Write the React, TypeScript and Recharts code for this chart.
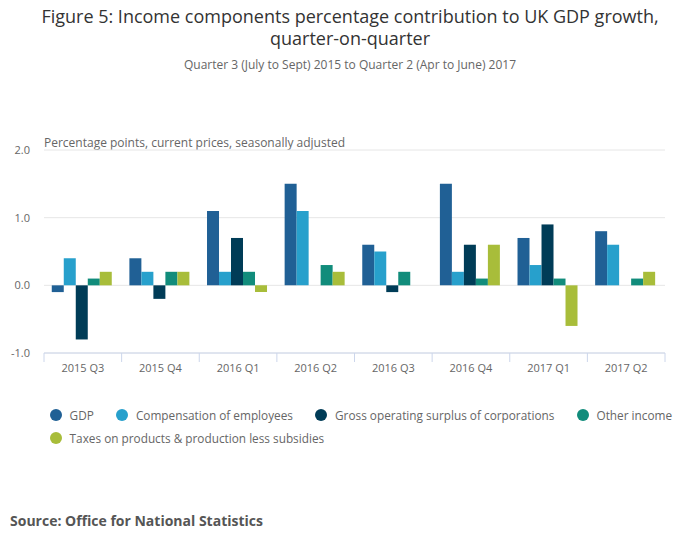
import React from "react";
import { BarChart, Bar, XAxis, YAxis, CartesianGrid } from "recharts";

const quarters = [
  "2015 Q3",
  "2015 Q4",
  "2016 Q1",
  "2016 Q2",
  "2016 Q3",
  "2016 Q4",
  "2017 Q1",
  "2017 Q2",
];

const gdp = [-0.1, 0.4, 1.1, 1.5, 0.6, 1.5, 0.7, 0.8];
const compensation = [0.4, 0.2, 0.2, 1.1, 0.5, 0.2, 0.3, 0.6];
const grossOperating = [-0.8, -0.2, 0.7, 0, -0.1, 0.6, 0.9, 0];
const otherIncome = [0.1, 0.2, 0.2, 0.3, 0.2, 0.1, 0.1, 0.1];
const taxes = [0.2, 0.2, -0.1, 0.2, 0, 0.6, -0.6, 0.2];

const yTicks = [-1, 0, 1, 2];

const series = [
  { key: "gdp", name: "GDP", color: "#206095" },
  { key: "compensation", name: "Compensation of employees", color: "#27a0cc" },
  { key: "grossOperating", name: "Gross operating surplus of corporations", color: "#003c57" },
  { key: "otherIncome", name: "Other income", color: "#118c7b" },
  { key: "taxes", name: "Taxes on products & production less subsidies", color: "#a8bd3a" },
];

const data = quarters.map((q, i) => ({
  quarter: q,
  gdp: gdp[i],
  compensation: compensation[i],
  grossOperating: grossOperating[i],
  otherIncome: otherIncome[i],
  taxes: taxes[i],
}));

const FONT = "'Open Sans', 'Noto Sans', sans-serif";
const CHART_W = 700;
const MARGIN = { top: 150, right: 35, left: 0, bottom: 17 };
const Y_WIDTH = 44;
const plotWidth = CHART_W - MARGIN.left - MARGIN.right - Y_WIDTH;
const band = plotWidth / quarters.length;

function QuarterTick(props: any) {
  const { x, y, payload, index } = props;
  const last = index === quarters.length - 1;
  return (
    <g>
      <line x1={x - band / 2} x2={x - band / 2} y1={y} y2={y + 9} stroke="#ccd6eb" />
      {last && (
        <line x1={x + band / 2} x2={x + band / 2} y1={y} y2={y + 9} stroke="#ccd6eb" />
      )}
      <text x={x} y={y + 19} textAnchor="middle" fontSize={11} fill="#666666" fontFamily={FONT}>
        {payload.value}
      </text>
    </g>
  );
}

function LegendItem({ name, color }: { name: string; color: string }) {
  return (
    <div style={{ display: "flex", alignItems: "center", marginRight: 22.5 }}>
      <span
        style={{
          width: 12,
          height: 12,
          borderRadius: 6,
          background: color,
          display: "inline-block",
          marginRight: 7.6,
        }}
      />
      <span style={{ fontSize: 11.8, color: "#666666", whiteSpace: "nowrap" }}>{name}</span>
    </div>
  );
}

export default function App() {
  return (
    <div
      style={{
        position: "absolute",
        left: 0,
        top: 0,
        width: 700,
        height: 549,
        background: "#ffffff",
        fontFamily: FONT,
        overflow: "hidden",
      }}
    >
      <div
        style={{
          position: "absolute",
          top: 5,
          left: 0,
          width: 700,
          textAlign: "center",
          fontSize: 18,
          lineHeight: "22px",
          color: "#333333",
        }}
      >
        Figure 5: Income components percentage contribution to UK GDP growth,
        <br />
        quarter-on-quarter
      </div>
      <div
        style={{
          position: "absolute",
          top: 56,
          left: 0,
          width: 700,
          textAlign: "center",
          fontSize: 12,
          color: "#666666",
        }}
      >
        Quarter 3 (July to Sept) 2015 to Quarter 2 (Apr to June) 2017
      </div>
      <div
        style={{
          position: "absolute",
          top: 134,
          left: 44,
          fontSize: 12,
          color: "#666666",
          whiteSpace: "nowrap",
        }}
      >
        Percentage points, current prices, seasonally adjusted
      </div>

      <div style={{ position: "absolute", left: 0, top: 0 }}>
        <BarChart
          width={CHART_W}
          height={400}
          data={data}
          margin={MARGIN}
          barCategoryGap="10%"
          barGap={0}
        >
          <CartesianGrid horizontal vertical={false} stroke="#e6e6e6" />
          <XAxis
            dataKey="quarter"
            axisLine={{ stroke: "#ccd6eb" }}
            tickLine={false}
            tickSize={0}
            tickMargin={0}
            height={30}
            interval={0}
            tick={<QuarterTick />}
          />
          <YAxis
            width={Y_WIDTH}
            domain={[-1, 2]}
            ticks={yTicks}
            axisLine={false}
            tickLine={false}
            tickSize={0}
            tickMargin={14}
            tickFormatter={(v: number) => v.toFixed(1)}
            tick={{ fontSize: 11, fill: "#666666", fontFamily: FONT }}
          />
          {series.map((s) => (
            <Bar key={s.key} dataKey={s.key} name={s.name} fill={s.color} isAnimationActive={false} />
          ))}
        </BarChart>
      </div>

      <div
        style={{
          position: "absolute",
          left: 50,
          top: 407,
          width: 645,
          display: "flex",
          flexWrap: "wrap",
          rowGap: 7,
        }}
      >
        {series.map((s) => (
          <LegendItem key={s.key} name={s.name} color={s.color} />
        ))}
      </div>

      <div
        style={{
          position: "absolute",
          left: 10,
          top: 511,
          fontSize: 14,
          fontWeight: 700,
          color: "#555555",
        }}
      >
        Source: Office for National Statistics
      </div>
    </div>
  );
}
